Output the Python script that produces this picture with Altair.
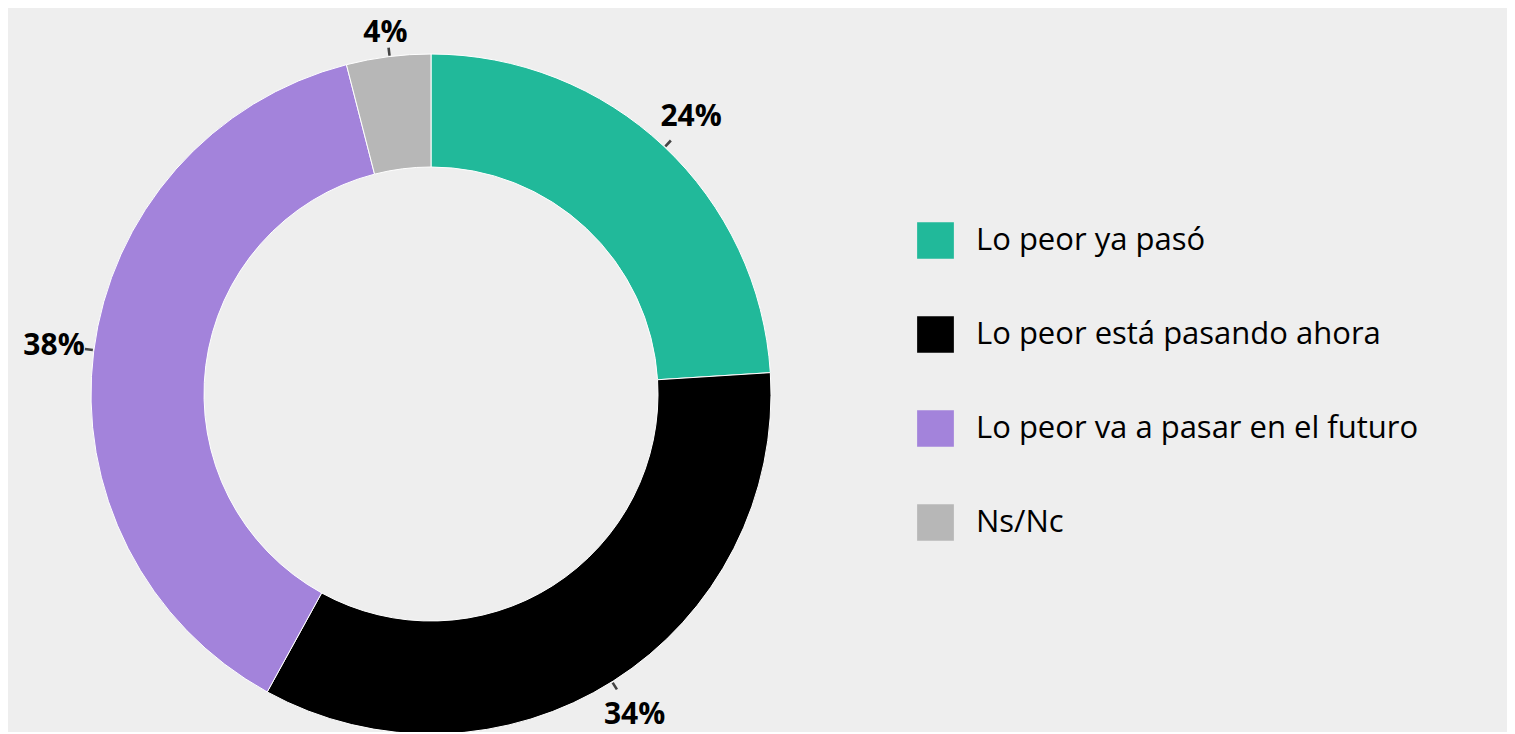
import altair as alt
import pandas as pd

categories = ["Lo peor ya pasó", "Lo peor está pasando ahora", "Lo peor va a pasar en el futuro", "Ns/Nc"]
values = [24, 34, 38, 4]
labels = ["24%", "34%", "38%", "4%"]
colors = ["#21b99a", "#000000", "#a383db", "#b7b7b7"]

df = pd.DataFrame({"cat": categories, "value": values, "label": labels, "order": list(range(len(categories)))})

CX, CY = 423, 386
theta_scale = alt.Scale(domain=[0, 100])
color = alt.Color(
    "cat:N",
    sort=categories,
    scale=alt.Scale(domain=categories, range=colors),
    legend=alt.Legend(
        title=None,
        orient="none",
        legendX=909,
        legendY=214,
        symbolType="square",
        symbolSize=1350,
        symbolStrokeWidth=0,
        labelFont="Open Sans",
        labelFontSize=31,
        labelColor="#000000",
        labelOffset=22,
        rowPadding=57,
        labelLimit=600,
    ),
)

donut = (
    alt.Chart(df)
    .mark_arc(outerRadius=340, innerRadius=227, stroke="#ffffff", strokeWidth=1)
    .encode(
        theta=alt.Theta("value:Q", stack=True, scale=theta_scale),
        order=alt.Order("order:Q"),
        color=color,
        x=alt.value(CX),
        y=alt.value(CY),
    )
)

mids = (
    alt.Chart(df)
    .transform_window(cum="sum(value)", sort=[{"field": "order"}])
    .transform_calculate(mid="datum.cum - datum.value / 2", mid2="datum.cum - datum.value / 2 + 0.12")
)

text_style = dict(font="Open Sans", fontWeight="bold", fontSize=30, color="#000000")
text_enc = dict(
    theta=alt.Theta("mid:Q", scale=theta_scale),
    text="label:N",
    x=alt.value(CX),
    y=alt.value(CY),
)
text_big = mids.transform_filter("datum.value >= 10").mark_text(radius=380, **text_style).encode(**text_enc)
text_small = mids.transform_filter("datum.value < 10").mark_text(radius=364, **text_style).encode(**text_enc)

ticks = mids.mark_arc(radius=341, radius2=349, color="#444444").encode(
    theta=alt.Theta("mid:Q", scale=theta_scale),
    theta2="mid2:Q",
    x=alt.value(CX),
    y=alt.value(CY),
)

chart = (
    alt.layer(donut, ticks, text_big, text_small)
    .properties(width=1499, height=724, autosize=alt.AutoSizeParams(type="none"), padding=0, background="#eeeeee")
    .configure_view(stroke=None)
)

chart.save("out.html", embed_options={"renderer": "svg", "actions": False})
